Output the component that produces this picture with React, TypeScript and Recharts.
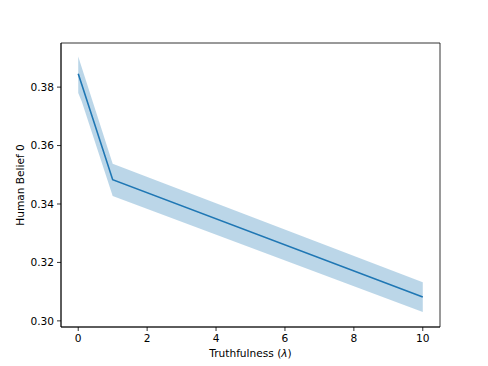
import { ComposedChart, Area, Line, XAxis, YAxis, Label, ReferenceArea } from 'recharts';

const lambdas = [0, 0.1, 1, 10];
const beliefMean = [0.3846, 0.381, 0.3483, 0.3082];
const beliefLow = [0.378, 0.3752, 0.3427, 0.303];
const beliefHigh = [0.3905, 0.3868, 0.3538, 0.3132];

const xTicks = [0, 2, 4, 6, 8, 10];
const yTicks = [0.3, 0.32, 0.34, 0.36, 0.38];

const xDomain = [-0.5, 10.5];
const yDomain = [0.2979, 0.3951];

const data = lambdas.map((l, i) => ({
  lambda: l,
  mean: beliefMean[i],
  band: [beliefLow[i], beliefHigh[i]],
}));

const font = 'DejaVu Sans, sans-serif';
const tickStyle = { fontSize: 10.6, fill: '#000', fontFamily: font };

export default function App() {
  return (
    <div style={{ position: 'absolute', left: 0, top: 0, width: 488, height: 366, background: '#fff' }}>
      <ComposedChart width={488} height={366} data={data} margin={{ top: 43, right: 48, bottom: 0, left: 0 }}>
        <XAxis
          dataKey="lambda"
          type="number"
          domain={xDomain}
          ticks={xTicks}
          height={39}
          stroke="#000"
          strokeWidth={0.8}
          tickSize={4}
          tickMargin={3}
          tick={tickStyle}
          tickLine={{ stroke: '#000', strokeWidth: 0.8 }}
        >
          <Label
            content={({ viewBox }: any) => (
              <text
                x={viewBox.x + viewBox.width / 2}
                y={viewBox.y + 30}
                textAnchor="middle"
                fontSize={10.6}
                fontFamily={font}
                fill="#000"
              >
                Truthfulness (<tspan fontStyle="italic">λ</tspan>)
              </text>
            )}
          />
        </XAxis>
        <YAxis
          type="number"
          domain={yDomain}
          ticks={yTicks}
          width={61}
          allowDataOverflow
          stroke="#000"
          strokeWidth={0.8}
          tickSize={4}
          tickMargin={3}
          tick={tickStyle}
          tickLine={{ stroke: '#000', strokeWidth: 0.8 }}
          tickFormatter={(v: number) => v.toFixed(2)}
        >
          <Label
            content={({ viewBox }: any) => (
              <text
                x={20}
                y={viewBox.y + viewBox.height / 2}
                transform={`rotate(-90, 20, ${viewBox.y + viewBox.height / 2})`}
                textAnchor="middle"
                dominantBaseline="central"
                fontSize={10.6}
                fontFamily={font}
                fill="#000"
              >
                Human Belief 0
              </text>
            )}
          />
        </YAxis>
        <Area
          dataKey="band"
          type="linear"
          stroke="none"
          fill="#1f77b4"
          fillOpacity={0.3}
          isAnimationActive={false}
          activeDot={false}
        />
        <Line
          dataKey="mean"
          type="linear"
          stroke="#1f77b4"
          strokeWidth={1.6}
          dot={false}
          activeDot={false}
          isAnimationActive={false}
        />
        <ReferenceArea
          x1={xDomain[0]}
          x2={xDomain[1]}
          y1={yDomain[0]}
          y2={yDomain[1]}
          fill="none"
          stroke="#000"
          strokeWidth={0.8}
          ifOverflow="visible"
        />
      </ComposedChart>
    </div>
  );
}
